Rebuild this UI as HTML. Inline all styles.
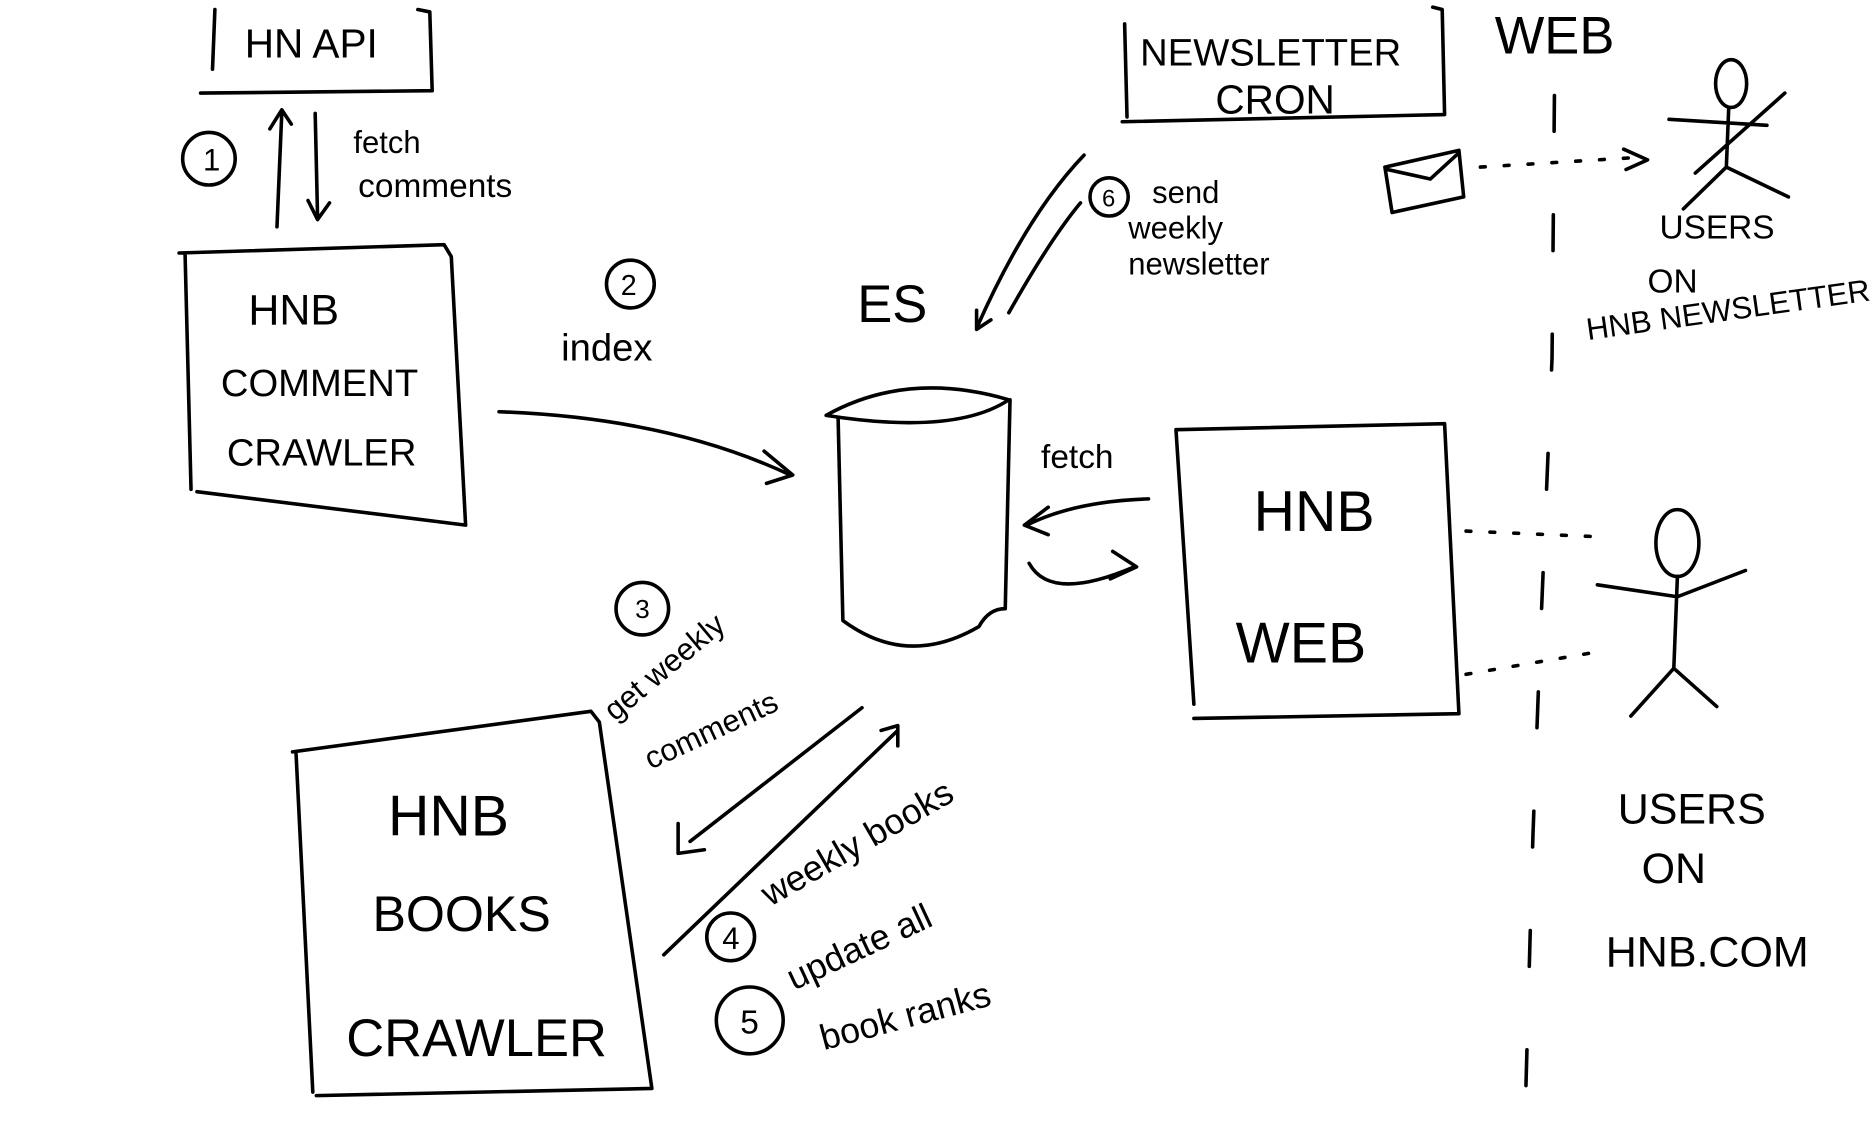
<!DOCTYPE html>
<html><head><meta charset="utf-8"><style>
html,body{margin:0;padding:0;background:#fff;}
svg{display:block}
text{font-family:"Liberation Sans",sans-serif;fill:#000;}
</style></head><body>
<svg width="1872" height="1135" viewBox="0 0 1568 951" preserveAspectRatio="none" xmlns="http://www.w3.org/2000/svg">
<g fill="none" stroke="#000" stroke-width="3" stroke-linecap="round" stroke-linejoin="round">
<path d="M180 8 L178 58 M168 78 L362 76 L360 10 L350 8"/>
<path d="M232 190 L236 95 M226 108 L236 92 L244 104"/>
<path d="M264 95 L266 182 M258 168 L266 184 L276 170"/>
<circle cx="175" cy="133" r="22"/>
<path d="M155 212 L160 410 M150 212 L372 205 L378 215 L390 440 L165 412"/>
<path d="M418 345 Q560 350 662 398 M640 378 L664 398 L642 405"/>
<circle cx="528" cy="238" r="20"/>
<path d="M692 348 Q760 310 845 335 Q800 365 692 348 Z"/>
<path d="M702 350 L706 520 Q760 560 820 525 Q828 510 842 510 L846 335"/>
<path d="M908 130 Q860 180 818 275 M818 260 L818 276 L830 268 M845 262 Q880 200 905 170"/>
<path d="M942 20 L944 98 M940 102 L1210 96 L1208 8 L1200 6"/>
<circle cx="929" cy="165" r="16"/>
<path d="M1160 140 L1222 126 L1226 165 L1166 178 Z M1162 142 L1198 150 L1222 128"/>
<path d="M1240 140 L1370 132" stroke-dasharray="4 16"/>
<path d="M1360 125 L1380 134 L1362 142"/>
<path d="M1302 80 L1300 300 L1290 540 L1284 700 L1278 915" stroke-dasharray="30 70"/>
<ellipse cx="1450" cy="70" rx="13" ry="20"/>
<path d="M1448 90 L1446 140 M1398 100 L1480 105 M1446 140 L1410 175 M1446 140 L1498 165 M1420 145 L1495 78"/>
<path d="M985 360 L1000 590 M985 360 L1210 355 L1222 598 L1000 602"/>
<path d="M962 418 Q900 420 860 440 M878 425 L858 440 L878 448"/>
<path d="M862 472 Q880 505 950 475 M932 462 L952 475 L930 485"/>
<path d="M1228 445 L1345 450 M1228 565 L1345 545" stroke-dasharray="4 16"/>
<ellipse cx="1405" cy="455" rx="18" ry="28"/>
<path d="M1405 483 L1402 560 M1338 490 L1405 500 L1462 478 M1402 560 L1366 600 M1402 560 L1438 592"/>
<path d="M248 632 L262 915 M245 630 L495 596 L502 605 L546 912 L265 918"/>
<path d="M722 593 L578 705 M568 690 L568 715 L590 712"/>
<path d="M556 800 L752 612 M738 612 L752 608 L752 625"/>
<circle cx="538" cy="510" r="22"/>
<circle cx="612" cy="785" r="20"/>
<circle cx="628" cy="855" r="28"/>
</g>
<g font-size="30">
<text x="205" y="48" font-size="34">HN API</text>
<text x="170" y="143" font-size="26">1</text>
<text x="296" y="128" font-size="26">fetch</text>
<text x="300" y="165" font-size="28">comments</text>
<text x="208" y="272" font-size="36">HNB</text>
<text x="185" y="332" font-size="32">COMMENT</text>
<text x="190" y="390" font-size="32">CRAWLER</text>
<text x="520" y="247" font-size="24">2</text>
<text x="470" y="302" font-size="32">index</text>
<text x="718" y="270" font-size="44">ES</text>
<text x="955" y="55" font-size="32">NEWSLETTER</text>
<text x="1018" y="95" font-size="34">CRON</text>
<text x="1252" y="45" font-size="44">WEB</text>
<text x="923" y="173" font-size="20">6</text>
<text x="965" y="170" font-size="26">send</text>
<text x="945" y="200" font-size="26">weekly</text>
<text x="945" y="230" font-size="26">newsletter</text>
<text x="1390" y="200" font-size="28">USERS</text>
<text x="1380" y="245" font-size="28">ON</text>
<text x="1330" y="285" font-size="26" transform="rotate(-8 1330 285)">HNB NEWSLETTER</text>
<text x="872" y="392" font-size="28">fetch</text>
<text x="1050" y="445" font-size="48">HNB</text>
<text x="1035" y="555" font-size="48">WEB</text>
<text x="532" y="518" font-size="22">3</text>
<text x="515" y="605" font-size="26" transform="rotate(-40 515 605)">get weekly</text>
<text x="545" y="645" font-size="26" transform="rotate(-25 545 645)">comments</text>
<text x="325" y="700" font-size="48">HNB</text>
<text x="312" y="780" font-size="42">BOOKS</text>
<text x="290" y="885" font-size="44">CRAWLER</text>
<text x="605" y="795" font-size="26">4</text>
<text x="645" y="760" font-size="30" transform="rotate(-30 645 760)">weekly books</text>
<text x="665" y="830" font-size="30" transform="rotate(-25 665 830)">update all</text>
<text x="620" y="866" font-size="28">5</text>
<text x="690" y="880" font-size="30" transform="rotate(-15 690 880)">book ranks</text>
<text x="1355" y="690" font-size="36">USERS</text>
<text x="1375" y="740" font-size="36">ON</text>
<text x="1345" y="810" font-size="36">HNB.COM</text>
</g>
</svg>
</body></html>
